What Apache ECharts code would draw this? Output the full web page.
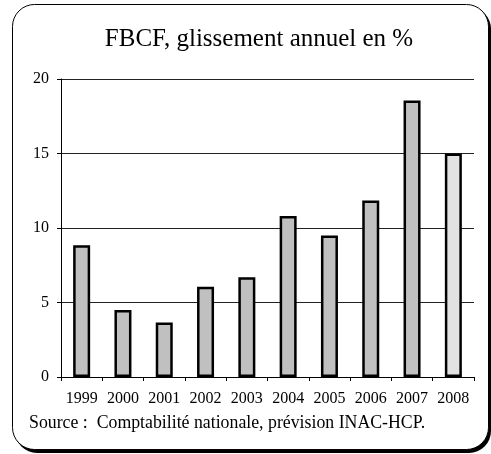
<!DOCTYPE html>
<html>
<head>
<meta charset="utf-8">
<script src="https://cdn.jsdelivr.net/npm/echarts@6/dist/echarts.min.js"></script>
<style>
  html, body { margin: 0; padding: 0; background: #fff; }
  #myChart { width: 491px; height: 454px; }
</style>
</head>
<body>
<div id="myChart"></div>
<script>
// années et glissement annuel (%)
var years = ['1999', '2000', '2001', '2002', '2003', '2004', '2005', '2006', '2007', '2008'];
var fbcf = [8.85, 4.5, 3.65, 6.05, 6.7, 10.8, 9.5, 11.85, 18.55, 15.0];
var forecastYear = '2008';
var yTicks = [0, 5, 10, 15, 20];

var myChart = echarts.init(document.getElementById('myChart'));
var serif = '"Liberation Serif", "Times New Roman", serif';

myChart.setOption({
  animation: false,
  title: {
    text: 'FBCF, glissement annuel en %',
    left: 254,
    textAlign: 'center',
    top: 22,
    textStyle: { fontFamily: serif, fontWeight: 'normal', fontSize: 25, color: '#000' }
  },
  graphic: [
    // cadre arrondi avec ombre
    { type: 'rect', z: -10, shape: { x: 15, y: 7, width: 476, height: 446, r: 22 }, style: { fill: '#000' } },
    { type: 'rect', z: -9, shape: { x: 12.5, y: 4.5, width: 476, height: 445, r: 22 }, style: { fill: '#fff', stroke: '#000', lineWidth: 1 } },
    {
      type: 'text', left: 29, top: 414,
      style: { text: 'Source :  Comptabilité nationale, prévision INAC-HCP.', font: '17.8px ' + serif, fill: '#000' }
    }
  ],
  grid: { left: 61, right: 17, top: 79, bottom: 77 },
  xAxis: {
    type: 'category',
    data: years,
    axisLine: { lineStyle: { color: '#000', width: 1 } },
    axisTick: { show: true, length: 4, inside: false, interval: 0, lineStyle: { color: '#000' } },
    axisLabel: { fontFamily: serif, fontSize: 16, color: '#000', margin: 14, interval: 0, hideOverlap: false }
  },
  yAxis: {
    type: 'value',
    min: yTicks[0],
    max: yTicks[yTicks.length - 1],
    interval: 5,
    axisLine: { show: true, lineStyle: { color: '#000', width: 1 } },
    axisTick: { show: true, length: 4, lineStyle: { color: '#000' } },
    axisLabel: { fontFamily: serif, fontSize: 16, color: '#000', margin: 12 },
    splitLine: { lineStyle: { color: '#222', width: 1 } }
  },
  series: [{
    type: 'bar',
    barWidth: 17,
    data: fbcf.map(function (v, i) {
      return {
        value: v,
        itemStyle: { color: years[i] === forecastYear ? '#e2e2e2' : '#c0c0c0' }
      };
    }),
    itemStyle: { borderColor: '#000', borderWidth: 2.5 }
  }]
});
</script>
</body>
</html>
